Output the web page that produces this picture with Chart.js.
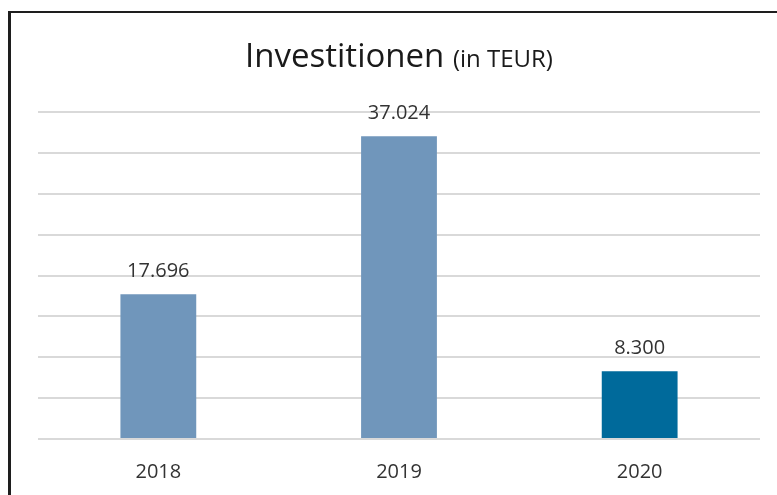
<!DOCTYPE html>
<html>
<head>
<meta charset="utf-8">
<script src="https://cdn.jsdelivr.net/npm/chart.js@4/dist/chart.umd.min.js"></script>
<style>
  html, body { margin: 0; padding: 0; background: #fff; overflow: hidden; }
  #wrap { position: relative; width: 777px; height: 495px; }
  #frame { position: absolute; left: 8px; top: 11px; width: 820px; height: 520px; border-left: 3px solid #1e1e1e; border-top: 2px solid #1e1e1e; box-sizing: border-box; pointer-events: none; }
  canvas { position: absolute; left: 0; top: 0; }
</style>
</head>
<body>
<div id="wrap">
  <canvas id="chart" width="777" height="495"></canvas>
  <div id="frame"></div>
</div>
<script>
const years = ['2018', '2019', '2020'];
const investments = [17696, 37024, 8300];
const barColors = ['#7096bb', '#7096bb', '#006a9b'];
const labelText = ['17.696', '37.024', '8.300'];

const titlePlugin = {
  id: 'titlePlugin',
  afterDraw(chart) {
    const ctx = chart.ctx;
    const big = 'Investitionen ';
    const small = '(in TEUR)';
    ctx.save();
    ctx.fillStyle = '#1a1a1a';
    ctx.textBaseline = 'alphabetic';
    ctx.font = '33px "Open Sans"';
    const w1 = ctx.measureText(big).width;
    ctx.font = '24px "Open Sans"';
    const w2 = ctx.measureText(small).width;
    const x0 = 399 - (w1 + w2) / 2;
    ctx.font = '33px "Open Sans"';
    ctx.fillText(big, x0, 67);
    ctx.font = '24px "Open Sans"';
    ctx.fillText(small, x0 + w1, 67);
    ctx.restore();
  }
};

const valueLabels = {
  id: 'valueLabels',
  afterDatasetsDraw(chart) {
    const ctx = chart.ctx;
    const meta = chart.getDatasetMeta(0);
    ctx.save();
    ctx.font = '20px "Open Sans"';
    ctx.fillStyle = '#333333';
    ctx.textAlign = 'center';
    ctx.textBaseline = 'middle';
    meta.data.forEach((bar, i) => {
      ctx.fillText(labelText[i], bar.x, bar.y - 23);
    });
    ctx.restore();
  }
};

new Chart(document.getElementById('chart'), {
  type: 'bar',
  data: {
    labels: years,
    datasets: [{
      data: investments,
      backgroundColor: barColors,
      borderWidth: 0,
      categoryPercentage: 1,
      barPercentage: 0.315
    }]
  },
  options: {
    responsive: false,
    animation: false,
    layout: { padding: { left: 38, right: 17, top: 112, bottom: 0 } },
    plugins: {
      legend: { display: false },
      tooltip: { enabled: false }
    },
    scales: {
      x: {
        grid: { display: false, drawTicks: false },
        border: { display: false },
        ticks: { color: '#333333', font: { family: 'Open Sans', size: 20 }, padding: 21 },
        afterFit(scale) { scale.height = 56; }
      },
      y: {
        min: 0,
        max: 40000,
        ticks: { stepSize: 5000, display: false },
        border: { display: false },
        grid: { color: '#d9d9d9', lineWidth: 2, drawTicks: false }
      }
    }
  },
  plugins: [titlePlugin, valueLabels]
});
</script>
</body>
</html>
